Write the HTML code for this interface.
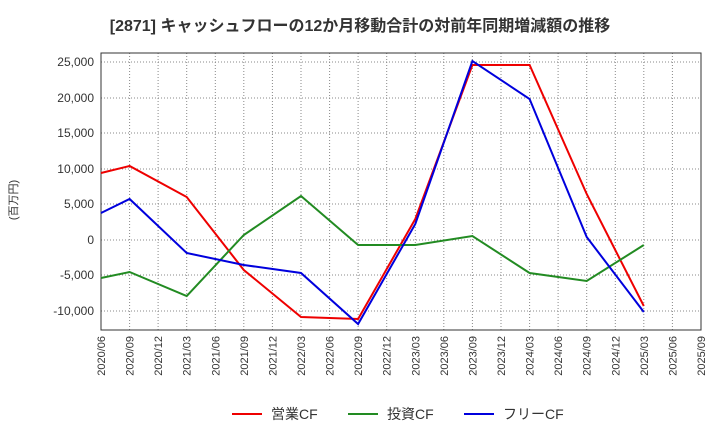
<!DOCTYPE html>
<html><head><meta charset="utf-8"><style>body{margin:0;background:#fff}svg{display:block}</style></head><body>
<svg width="720" height="440" xmlns="http://www.w3.org/2000/svg" font-family="Liberation Sans, Noto Sans CJK JP, sans-serif">
<rect width="720" height="440" fill="#fff"/>
<text x="360" y="31" text-anchor="middle" font-size="16" font-weight="bold" fill="#333" font-family="Liberation Sans, Noto Sans CJK JP, sans-serif">[2871]  キャッシュフローの12か月移動合計の対前年同期増減額の推移</text>
<g stroke="#888" stroke-dasharray="1,2" stroke-width="1">
<line x1="101" x2="701" y1="62" y2="62"/><line x1="101" x2="701" y1="98" y2="98"/><line x1="101" x2="701" y1="133" y2="133"/><line x1="101" x2="701" y1="169" y2="169"/><line x1="101" x2="701" y1="204" y2="204"/><line x1="101" x2="701" y1="240" y2="240"/><line x1="101" x2="701" y1="275" y2="275"/><line x1="101" x2="701" y1="311" y2="311"/>
<line x1="129.6" x2="129.6" y1="53" y2="330"/><line x1="158.1" x2="158.1" y1="53" y2="330"/><line x1="186.7" x2="186.7" y1="53" y2="330"/><line x1="215.3" x2="215.3" y1="53" y2="330"/><line x1="243.8" x2="243.8" y1="53" y2="330"/><line x1="272.4" x2="272.4" y1="53" y2="330"/><line x1="301" x2="301" y1="53" y2="330"/><line x1="329.6" x2="329.6" y1="53" y2="330"/><line x1="358.1" x2="358.1" y1="53" y2="330"/><line x1="386.7" x2="386.7" y1="53" y2="330"/><line x1="415.3" x2="415.3" y1="53" y2="330"/><line x1="443.8" x2="443.8" y1="53" y2="330"/><line x1="472.4" x2="472.4" y1="53" y2="330"/><line x1="501" x2="501" y1="53" y2="330"/><line x1="529.6" x2="529.6" y1="53" y2="330"/><line x1="558.1" x2="558.1" y1="53" y2="330"/><line x1="586.7" x2="586.7" y1="53" y2="330"/><line x1="615.3" x2="615.3" y1="53" y2="330"/><line x1="643.8" x2="643.8" y1="53" y2="330"/><line x1="672.4" x2="672.4" y1="53" y2="330"/>
</g>
<rect x="101" y="53" width="600" height="277" fill="none" stroke="#333" stroke-width="1"/>
<g font-size="12" fill="#333" text-anchor="end">
<text x="94" y="66">25,000</text><text x="94" y="102">20,000</text><text x="94" y="137">15,000</text><text x="94" y="173">10,000</text><text x="94" y="208">5,000</text><text x="94" y="244">0</text><text x="94" y="279">-5,000</text><text x="94" y="315">-10,000</text>
</g>
<text transform="translate(17,200) rotate(-90)" font-size="11" fill="#333" text-anchor="middle">(百万円)</text>
<g font-size="11" fill="#333" text-anchor="end">
<text transform="translate(105,336) rotate(-90)">2020/06</text><text transform="translate(133.6,336) rotate(-90)">2020/09</text><text transform="translate(162.1,336) rotate(-90)">2020/12</text><text transform="translate(190.7,336) rotate(-90)">2021/03</text><text transform="translate(219.3,336) rotate(-90)">2021/06</text><text transform="translate(247.8,336) rotate(-90)">2021/09</text><text transform="translate(276.4,336) rotate(-90)">2021/12</text><text transform="translate(305,336) rotate(-90)">2022/03</text><text transform="translate(333.6,336) rotate(-90)">2022/06</text><text transform="translate(362.1,336) rotate(-90)">2022/09</text><text transform="translate(390.7,336) rotate(-90)">2022/12</text><text transform="translate(419.3,336) rotate(-90)">2023/03</text><text transform="translate(447.8,336) rotate(-90)">2023/06</text><text transform="translate(476.4,336) rotate(-90)">2023/09</text><text transform="translate(505,336) rotate(-90)">2023/12</text><text transform="translate(533.6,336) rotate(-90)">2024/03</text><text transform="translate(562.1,336) rotate(-90)">2024/06</text><text transform="translate(590.7,336) rotate(-90)">2024/09</text><text transform="translate(619.3,336) rotate(-90)">2024/12</text><text transform="translate(647.8,336) rotate(-90)">2025/03</text><text transform="translate(676.4,336) rotate(-90)">2025/06</text><text transform="translate(705,336) rotate(-90)">2025/09</text>
</g>
<g fill="none" stroke-width="2">
<polyline stroke="#e00" points="101,173 129.6,166 186.7,197 243.8,270 301,317 358.1,319 415.3,219 472.4,65 529.6,65 586.7,194 643.8,306"/>
<polyline stroke="#228b22" points="101,278 129.6,272 186.7,296 243.8,235 301,196 358.1,245 415.3,245 472.4,236 529.6,273 586.7,281 643.8,245"/>
<polyline stroke="#00d" points="101,213 129.6,199 186.7,253 243.8,265 301,273 358.1,324 415.3,224 472.4,61 529.6,99 586.7,237 643.8,312"/>
</g>
<g font-size="14" fill="#333">
<line x1="232" x2="262" y1="414" y2="414" stroke="#e00" stroke-width="2"/><text x="271" y="419">営業CF</text>
<line x1="348" x2="378" y1="414" y2="414" stroke="#228b22" stroke-width="2"/><text x="387" y="419">投資CF</text>
<line x1="464" x2="494" y1="414" y2="414" stroke="#00d" stroke-width="2"/><text x="503" y="419">フリーCF</text>
</g>
</svg>
</body></html>
